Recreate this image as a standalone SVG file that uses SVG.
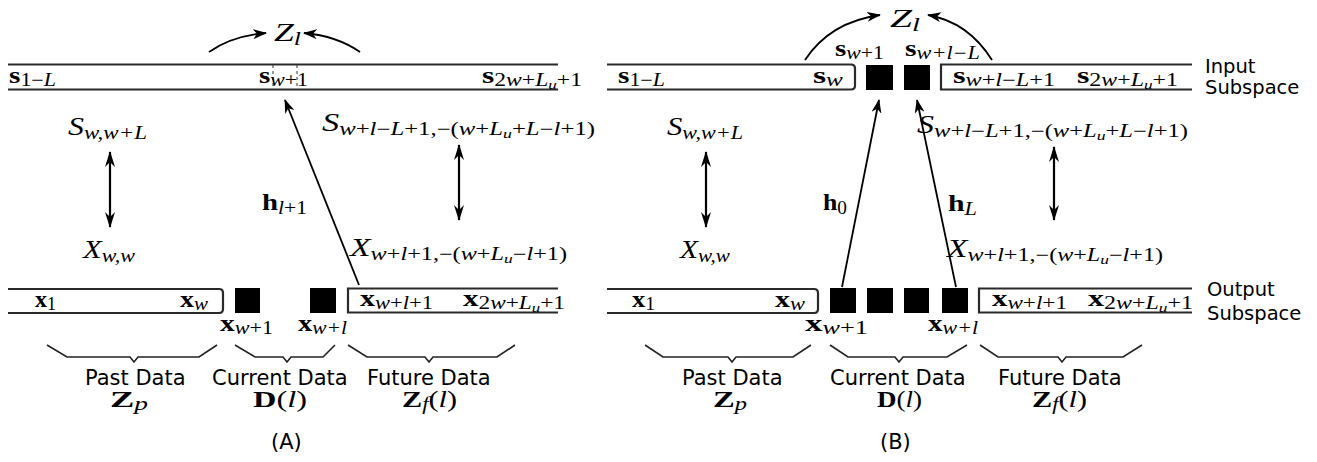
<svg xmlns="http://www.w3.org/2000/svg" width="1317" height="462" viewBox="0 0 1317 462">
<style>
.m{font-family:"Liberation Serif",serif;font-size:24px;fill:#000}
.b{font-weight:bold}
.i{font-style:italic}
.s{font-size:18px}
.ss{font-size:13px}
.cal{font-style:italic;font-size:25px}
.t{font-family:"DejaVu Sans",sans-serif;font-size:21px;fill:#000}
.t2{font-family:"DejaVu Sans",sans-serif;font-size:19.5px;fill:#000}
.bar{stroke:#2a2a2a;stroke-width:2.2;fill:none}
.tick{stroke:#333;stroke-width:1;stroke-dasharray:3,3}
.sq{fill:#000}
.br{stroke:#222;stroke-width:1.6;fill:none;stroke-linejoin:miter}
.ln{stroke:#000;stroke-width:1.8;fill:none}
.dbl{stroke:#000;stroke-width:2.2;fill:none}
</style>
<defs>
<marker id="ah" viewBox="0 0 14 10" refX="13" refY="5" markerWidth="14" markerHeight="10" orient="auto-start-reverse" markerUnits="userSpaceOnUse"><path d="M0,0 L14,5 L0,10 L4,5 Z" fill="#000"/></marker>
<marker id="ah2" viewBox="0 0 16 10" refX="15" refY="5" markerWidth="16" markerHeight="10" orient="auto-start-reverse" markerUnits="userSpaceOnUse"><path d="M0,0 L16,5 L0,10 L5,5 Z" fill="#000"/></marker>
</defs>

<g id="connectors">
<path class="ln" d="M209,52 Q232,36 266,33" marker-end="url(#ah)"/>
<path class="ln" d="M360,52 Q337,36 304,33" marker-end="url(#ah)"/>
<path class="ln" d="M359,285 L285,100" marker-end="url(#ah)"/>
<path class="dbl" d="M110,152 L110,227" marker-start="url(#ah2)" marker-end="url(#ah2)"/>
<path class="dbl" d="M459,145 L459,220" marker-start="url(#ah2)" marker-end="url(#ah2)"/>
<path class="ln" d="M805,60 Q830,22 880,15" marker-end="url(#ah)"/>
<path class="ln" d="M992,60 Q968,22 928,15" marker-end="url(#ah)"/>
<path class="ln" d="M842,287 L879,100" marker-end="url(#ah)"/>
<path class="ln" d="M956,287 L917,100" marker-end="url(#ah)"/>
<path class="dbl" d="M706,152 L706,227" marker-start="url(#ah2)" marker-end="url(#ah2)"/>
<path class="dbl" d="M1054,147 L1054,220" marker-start="url(#ah2)" marker-end="url(#ah2)"/>
</g>

<!-- Panel A -->
<g id="a-input-bar">
<path class="bar" d="M8,64.5 H558 M8,89.5 H558"/>
<path class="tick" d="M273,65 V89 M297,65 V89"/>
<text class="m" x="9" y="83" textLength="47" lengthAdjust="spacingAndGlyphs"><tspan class="b">s</tspan><tspan class="s" dy="3">1−<tspan class="i">L</tspan></tspan></text>
<text class="m" x="259" y="83" textLength="49" lengthAdjust="spacingAndGlyphs"><tspan class="b">s</tspan><tspan class="s" dy="3"><tspan class="i">w</tspan>+1</tspan></text>
<text class="m" x="482" y="83" textLength="100" lengthAdjust="spacingAndGlyphs"><tspan class="b">s</tspan><tspan class="s" dy="3">2<tspan class="i">w</tspan>+<tspan class="i">L</tspan><tspan class="ss i" dy="3">u</tspan><tspan dy="-3">+1</tspan></tspan></text>
</g>
<g id="a-z">
<text class="m" x="274" y="41" textLength="27" lengthAdjust="spacingAndGlyphs"><tspan class="cal">Z</tspan><tspan class="s i" dy="4">l</tspan></text>
</g>
<g id="a-s-past">
<text class="m" x="68" y="135" textLength="79" lengthAdjust="spacingAndGlyphs"><tspan class="cal">S</tspan><tspan class="s i" dy="4">w,w+L</tspan></text>
</g>
<g id="a-x-past">
<text class="m" x="83" y="258" textLength="52" lengthAdjust="spacingAndGlyphs"><tspan class="cal">X</tspan><tspan class="s i" dy="4">w,w</tspan></text>
</g>
<g id="a-h">
<text class="m" x="262" y="210" textLength="45" lengthAdjust="spacingAndGlyphs"><tspan class="b">h</tspan><tspan class="s" dy="4"><tspan class="i">l</tspan>+1</tspan></text>
</g>
<g id="a-s-future">
<text class="m" x="322" y="131" textLength="273" lengthAdjust="spacingAndGlyphs"><tspan class="cal">S</tspan><tspan class="s" dy="4"><tspan class="i">w</tspan>+<tspan class="i">l</tspan>−<tspan class="i">L</tspan>+1,−(<tspan class="i">w</tspan>+<tspan class="i">L</tspan><tspan class="ss i" dy="3">u</tspan><tspan dy="-3">+<tspan class="i">L</tspan>−<tspan class="i">l</tspan>+1)</tspan></tspan></text>
</g>
<g id="a-x-future">
<text class="m" x="350" y="256" textLength="217" lengthAdjust="spacingAndGlyphs"><tspan class="cal">X</tspan><tspan class="s" dy="4"><tspan class="i">w</tspan>+<tspan class="i">l</tspan>+1,−(<tspan class="i">w</tspan>+<tspan class="i">L</tspan><tspan class="ss i" dy="3">u</tspan><tspan dy="-3">−<tspan class="i">l</tspan>+1)</tspan></tspan></text>
</g>
<g id="a-past-bar">
<path class="bar" d="M8,289 H219 Q223,289 223,293 V309 Q223,313 219,313 H8"/>
<text class="m" x="35" y="307" textLength="21" lengthAdjust="spacingAndGlyphs"><tspan class="b">x</tspan><tspan class="s" dy="3">1</tspan></text>
<text class="m" x="180" y="307" textLength="28" lengthAdjust="spacingAndGlyphs"><tspan class="b">x</tspan><tspan class="s i" dy="3">w</tspan></text>
</g>
<g id="a-current">
<rect class="sq" x="235" y="288" width="25" height="25"/>
<rect class="sq" x="310" y="288" width="26" height="25"/>
<text class="m" x="220" y="331" textLength="53" lengthAdjust="spacingAndGlyphs"><tspan class="b">x</tspan><tspan class="s" dy="3"><tspan class="i">w</tspan>+1</tspan></text>
<text class="m" x="298" y="331" textLength="49" lengthAdjust="spacingAndGlyphs"><tspan class="b">x</tspan><tspan class="s i" dy="3">w+l</tspan></text>
</g>
<g id="a-future-bar">
<path class="bar" d="M558,288.5 H348 V312.5 H558"/>
<text class="m" x="360" y="306" textLength="73" lengthAdjust="spacingAndGlyphs"><tspan class="b">x</tspan><tspan class="s" dy="3"><tspan class="i">w</tspan>+<tspan class="i">l</tspan>+1</tspan></text>
<text class="m" x="463" y="306" textLength="102" lengthAdjust="spacingAndGlyphs"><tspan class="b">x</tspan><tspan class="s" dy="3">2<tspan class="i">w</tspan>+<tspan class="i">L</tspan><tspan class="ss i" dy="3">u</tspan><tspan dy="-3">+1</tspan></tspan></text>
</g>
<g id="a-braces">
<path class="br" d="M47,345 L67,357 L130,357 L134,362 L138,357 L199,357 L217,345"/>
<path class="br" d="M235,345 L255,357 L283,357 L287,362 L291,357 L323,357 L335,345"/>
<path class="br" d="M348,345 L367,357 L425,357 L429,362 L433,357 L497,357 L515,345"/>
</g>
<g id="a-past-label">
<text class="t" x="85" y="385">Past Data</text>
<text class="m" x="110" y="407" textLength="38" lengthAdjust="spacingAndGlyphs"><tspan class="b">Z</tspan><tspan class="s i" dy="3">p</tspan></text>
</g>
<g id="a-current-label">
<text class="t" x="212" y="385">Current Data</text>
<text class="m" x="253" y="407" textLength="54" lengthAdjust="spacingAndGlyphs"><tspan class="b">D</tspan>(<tspan class="i">l</tspan>)</text>
</g>
<g id="a-future-label">
<text class="t" x="367" y="385">Future Data</text>
<text class="m" x="402" y="407" textLength="55" lengthAdjust="spacingAndGlyphs"><tspan class="b">Z</tspan><tspan class="s i" dy="3">f</tspan><tspan dy="-3">(<tspan class="i">l</tspan>)</tspan></text>
</g>
<g id="a-caption">
<text class="t" x="271" y="449">(A)</text>
</g>

<!-- Panel B -->
<g id="b-z">
<text class="m" x="890" y="27" textLength="30" lengthAdjust="spacingAndGlyphs"><tspan class="cal">Z</tspan><tspan class="s i" dy="4">l</tspan></text>
</g>
<g id="b-input-past">
<path class="bar" d="M607,64.5 H851 Q855,64.5 855,68.5 V85.5 Q855,89.5 851,89.5 H607"/>
<text class="m" x="618" y="83" textLength="47" lengthAdjust="spacingAndGlyphs"><tspan class="b">s</tspan><tspan class="s" dy="3">1−<tspan class="i">L</tspan></tspan></text>
<text class="m" x="813" y="83" textLength="30" lengthAdjust="spacingAndGlyphs"><tspan class="b">s</tspan><tspan class="s i" dy="3">w</tspan></text>
</g>
<g id="b-input-current">
<rect class="sq" x="866" y="65" width="27" height="25"/>
<rect class="sq" x="904" y="65" width="26" height="25"/>
<text class="m" x="835" y="56" textLength="49" lengthAdjust="spacingAndGlyphs"><tspan class="b">s</tspan><tspan class="s" dy="3"><tspan class="i">w</tspan>+1</tspan></text>
<text class="m" x="905" y="56" textLength="75" lengthAdjust="spacingAndGlyphs"><tspan class="b">s</tspan><tspan class="s i" dy="3">w+l−L</tspan></text>
</g>
<g id="b-input-future">
<path class="bar" d="M1192,64.5 H941 V89.5 H1192"/>
<text class="m" x="953" y="83" textLength="102" lengthAdjust="spacingAndGlyphs"><tspan class="b">s</tspan><tspan class="s" dy="3"><tspan class="i">w</tspan>+<tspan class="i">l</tspan>−<tspan class="i">L</tspan>+1</tspan></text>
<text class="m" x="1077" y="83" textLength="101" lengthAdjust="spacingAndGlyphs"><tspan class="b">s</tspan><tspan class="s" dy="3">2<tspan class="i">w</tspan>+<tspan class="i">L</tspan><tspan class="ss i" dy="3">u</tspan><tspan dy="-3">+1</tspan></tspan></text>
</g>
<g id="input-subspace-label">
<text class="t2" x="1205" y="73">Input</text>
<text class="t2" x="1205" y="94">Subspace</text>
</g>
<g id="b-s-past">
<text class="m" x="667" y="135" textLength="76" lengthAdjust="spacingAndGlyphs"><tspan class="cal">S</tspan><tspan class="s i" dy="4">w,w+L</tspan></text>
</g>
<g id="b-x-past">
<text class="m" x="680" y="258" textLength="50" lengthAdjust="spacingAndGlyphs"><tspan class="cal">X</tspan><tspan class="s i" dy="4">w,w</tspan></text>
</g>
<g id="b-h0">
<text class="m" x="823" y="210" textLength="24" lengthAdjust="spacingAndGlyphs"><tspan class="b">h</tspan><tspan class="s" dy="4">0</tspan></text>
</g>
<g id="b-hL">
<text class="m" x="948" y="211" textLength="29" lengthAdjust="spacingAndGlyphs"><tspan class="b">h</tspan><tspan class="s i" dy="4">L</tspan></text>
</g>
<g id="b-s-future">
<text class="m" x="917" y="133" textLength="271" lengthAdjust="spacingAndGlyphs"><tspan class="cal">S</tspan><tspan class="s" dy="4"><tspan class="i">w</tspan>+<tspan class="i">l</tspan>−<tspan class="i">L</tspan>+1,−(<tspan class="i">w</tspan>+<tspan class="i">L</tspan><tspan class="ss i" dy="3">u</tspan><tspan dy="-3">+<tspan class="i">L</tspan>−<tspan class="i">l</tspan>+1)</tspan></tspan></text>
</g>
<g id="b-x-future">
<text class="m" x="947" y="257" textLength="216" lengthAdjust="spacingAndGlyphs"><tspan class="cal">X</tspan><tspan class="s" dy="4"><tspan class="i">w</tspan>+<tspan class="i">l</tspan>+1,−(<tspan class="i">w</tspan>+<tspan class="i">L</tspan><tspan class="ss i" dy="3">u</tspan><tspan dy="-3">−<tspan class="i">l</tspan>+1)</tspan></tspan></text>
</g>
<g id="b-past-bar">
<path class="bar" d="M607,289 H814 Q818,289 818,293 V309 Q818,313 814,313 H607"/>
<text class="m" x="632" y="307" textLength="23" lengthAdjust="spacingAndGlyphs"><tspan class="b">x</tspan><tspan class="s" dy="3">1</tspan></text>
<text class="m" x="775" y="307" textLength="30" lengthAdjust="spacingAndGlyphs"><tspan class="b">x</tspan><tspan class="s i" dy="3">w</tspan></text>
</g>
<g id="b-current">
<rect class="sq" x="830" y="288" width="26" height="25"/>
<rect class="sq" x="867" y="288" width="26" height="25"/>
<rect class="sq" x="904" y="288" width="25" height="25"/>
<rect class="sq" x="942" y="288" width="26" height="25"/>
<text class="m" x="805" y="331" textLength="63" lengthAdjust="spacingAndGlyphs"><tspan class="b">x</tspan><tspan class="s" dy="3"><tspan class="i">w</tspan>+1</tspan></text>
<text class="m" x="928" y="331" textLength="50" lengthAdjust="spacingAndGlyphs"><tspan class="b">x</tspan><tspan class="s i" dy="3">w+l</tspan></text>
</g>
<g id="b-future-bar">
<path class="bar" d="M1192,288.5 H979 V312.5 H1192"/>
<text class="m" x="992" y="306" textLength="75" lengthAdjust="spacingAndGlyphs"><tspan class="b">x</tspan><tspan class="s" dy="3"><tspan class="i">w</tspan>+<tspan class="i">l</tspan>+1</tspan></text>
<text class="m" x="1088" y="306" textLength="105" lengthAdjust="spacingAndGlyphs"><tspan class="b">x</tspan><tspan class="s" dy="3">2<tspan class="i">w</tspan>+<tspan class="i">L</tspan><tspan class="ss i" dy="3">u</tspan><tspan dy="-3">+1</tspan></tspan></text>
</g>
<g id="output-subspace-label">
<text class="t2" x="1207" y="296">Output</text>
<text class="t2" x="1207" y="320">Subspace</text>
</g>
<g id="b-braces">
<path class="br" d="M645,345 L663,357 L728,357 L732,362 L736,357 L793,357 L811,345"/>
<path class="br" d="M830,345 L848,357 L895,357 L899,362 L903,357 L947,357 L967,345"/>
<path class="br" d="M980,345 L998,357 L1058,357 L1062,362 L1066,357 L1123,357 L1142,345"/>
</g>
<g id="b-past-label">
<text class="t" x="682" y="385">Past Data</text>
<text class="m" x="713" y="407" textLength="34" lengthAdjust="spacingAndGlyphs"><tspan class="b">Z</tspan><tspan class="s i" dy="3">p</tspan></text>
</g>
<g id="b-current-label">
<text class="t" x="830" y="385">Current Data</text>
<text class="m" x="877" y="407" textLength="45" lengthAdjust="spacingAndGlyphs"><tspan class="b">D</tspan>(<tspan class="i">l</tspan>)</text>
</g>
<g id="b-future-label">
<text class="t" x="998" y="385">Future Data</text>
<text class="m" x="1032" y="407" textLength="55" lengthAdjust="spacingAndGlyphs"><tspan class="b">Z</tspan><tspan class="s i" dy="3">f</tspan><tspan dy="-3">(<tspan class="i">l</tspan>)</tspan></text>
</g>
<g id="b-caption">
<text class="t" x="880" y="449">(B)</text>
</g>
</svg>
